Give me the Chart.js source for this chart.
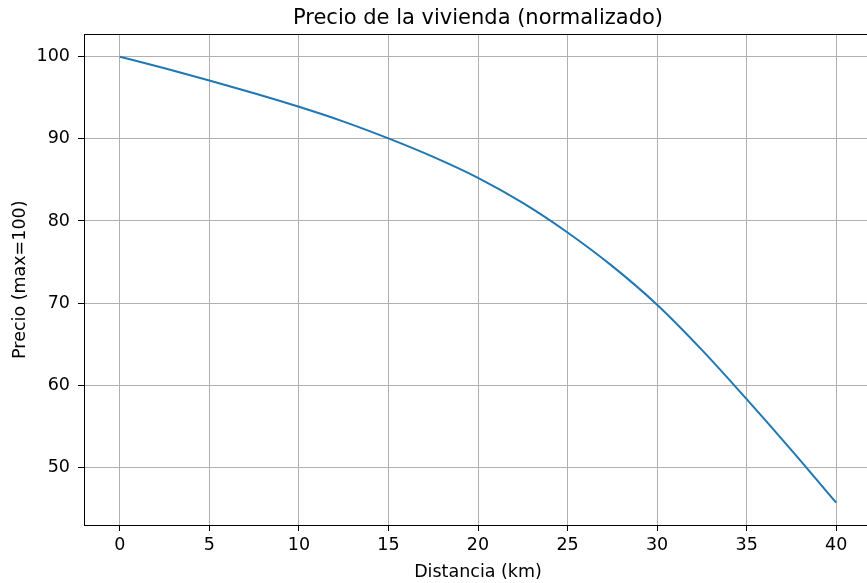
<!DOCTYPE html>
<html lang="es">
<head>
    <meta charset="UTF-8">
    <title>Precio de la vivienda (normalizado)</title>
    <script src="https://cdn.jsdelivr.net/npm/chart.js"></script>
    <style>
        html, body { margin: 0; padding: 0; background: #fff; overflow: hidden; }
        .chart-wrapper { position: relative; width: 900px; height: 583px; }
    </style>
</head>
<body>
    <div class="chart-wrapper">
        <canvas id="precioChart"></canvas>
    </div>

    <script>
        // Distance from centre (km) and normalised price
        const distKm = [0, 2.5, 5, 7.5, 10, 12.5, 15, 17.5, 20, 22.5, 25, 27.5, 30, 32.5, 35, 37.5, 40];
        const precio = [100, 98.6, 97.1, 95.55, 93.9, 92.1, 90.05, 87.8, 85.25, 82.2, 78.6, 74.5, 69.8, 64.3, 58.3, 52.1, 45.7];

        const xTicks = [0, 5, 10, 15, 20, 25, 30, 35, 40];
        const yTicks = [50, 60, 70, 80, 90, 100];

        const FONT = 'DejaVu Sans';

        // matplotlib-like 5% margins around the data
        function padRange(values) {
            const lo = Math.min(...values), hi = Math.max(...values);
            const m = (hi - lo) * 0.05;
            return [lo - m, hi + m];
        }
        const [xMin, xMax] = padRange(distKm);
        const [yMin, yMax] = padRange(precio);

        // frame around the axes
        const framePlugin = {
            id: 'frame',
            afterDraw(chart) {
                const { ctx, chartArea: a } = chart;
                ctx.save();
                ctx.strokeStyle = '#000';
                ctx.lineWidth = 1;
                ctx.strokeRect(Math.round(a.left) + 0.5, Math.round(a.top) + 0.5,
                    Math.round(a.right - a.left), Math.round(a.bottom - a.top));
                ctx.restore();
            }
        };

        const ctx = document.getElementById('precioChart').getContext('2d');
        new Chart(ctx, {
            type: 'line',
            data: {
                datasets: [{
                    label: 'Precio',
                    data: distKm.map((x, i) => ({ x: x, y: precio[i] })),
                    borderColor: '#1f77b4',
                    borderWidth: 2,
                    pointRadius: 0,
                    fill: false,
                    cubicInterpolationMode: 'monotone'
                }]
            },
            options: {
                responsive: true,
                maintainAspectRatio: false,
                animation: false,
                layout: { padding: { top: 0, right: 28, bottom: 0, left: 0 } },
                plugins: {
                    legend: { display: false },
                    tooltip: { enabled: false },
                    title: {
                        display: true,
                        fullSize: false,
                        text: 'Precio de la vivienda (normalizado)',
                        color: '#000',
                        font: { family: FONT, size: 21, weight: 'normal' },
                        padding: { top: 6, bottom: 3.2 }
                    }
                },
                scales: {
                    x: {
                        type: 'linear',
                        min: xMin,
                        max: xMax,
                        afterBuildTicks: (scale) => { scale.ticks = xTicks.map(v => ({ value: v })); },
                        afterFit: (scale) => { scale.height = 58; },
                        grid: { color: '#b0b0b0', lineWidth: 1, tickColor: '#000', tickLength: 6, tickWidth: 1 },
                        border: { display: false },
                        ticks: { color: '#000', padding: 4, font: { family: FONT, size: 17.5 }, maxRotation: 0 },
                        title: {
                            display: true,
                            text: 'Distancia (km)',
                            color: '#000',
                            font: { family: FONT, size: 17.5 },
                            padding: { top: 0.5, bottom: 0 }
                        }
                    },
                    y: {
                        type: 'linear',
                        min: yMin,
                        max: yMax,
                        afterBuildTicks: (scale) => { scale.ticks = yTicks.map(v => ({ value: v })); },
                        afterFit: (scale) => { scale.width = 84; },
                        grid: { color: '#b0b0b0', lineWidth: 1, tickColor: '#000', tickLength: 6, tickWidth: 1 },
                        border: { display: false },
                        ticks: { color: '#000', padding: 8, font: { family: FONT, size: 17.5 } },
                        title: {
                            display: true,
                            text: 'Precio (max=100)',
                            color: '#000',
                            font: { family: FONT, size: 17.5 },
                            padding: { top: 9.5, bottom: 0 }
                        }
                    }
                }
            },
            plugins: [framePlugin]
        });
    </script>
</body>
</html>
